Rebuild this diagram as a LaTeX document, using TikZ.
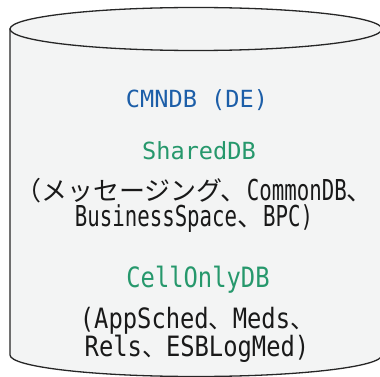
\documentclass[tikz,border=0pt]{standalone}
\usepackage{fontspec}
\newfontfamily\monofont{DejaVu Sans Mono}
\newfontfamily\monotall[FakeStretch=0.85]{DejaVu Sans Mono}
\newfontfamily\mononarrow[FakeStretch=0.72]{DejaVu Sans Mono}
\newfontfamily\jpfont{Noto Sans CJK JP}
\newcommand{\jp}[2][26]{{\jpfont\fontsize{#1}{#1}\selectfont #2}}
\setlength{\lineskiplimit}{-20pt}
\definecolor{cylfill}{RGB}{243,244,244}
\definecolor{dbblue}{RGB}{28,94,168}
\definecolor{dbgreen}{RGB}{38,152,108}

\begin{document}
\begin{tikzpicture}[x=1pt,y=-1pt,
  cyl/.style={fill=cylfill, draw=black!85, line width=1.3pt},
  title/.style={anchor=base, inner sep=0pt, font=\monofont\fontsize{23.6}{28}\selectfont},
  listtop/.style={anchor=base, inner sep=0pt, align=center, text=black!90,
    font=\mononarrow\fontsize{28.8}{26.2}\selectfont},
  listbot/.style={anchor=base, inner sep=0pt, align=center, text=black!90,
    font=\monotall\fontsize{28}{28.4}\selectfont}]
\useasboundingbox (0,0) rectangle (380,377);
% cylinder body and lid
\filldraw[cyl] (10,29) -- (10,355)
  arc[start angle=180, end angle=0, x radius=186, y radius=21.5] -- (382,29) -- cycle;
\filldraw[cyl] (196,29) ellipse [x radius=186, y radius=21.5];
% texts (base = last line)
\node[title, text=dbblue] (cmndb) at (197,108) {CMNDB (DE)};
\node[title, text=dbgreen] (shared) at (199,160) {SharedDB};
\node[listtop] (sharedlist) at (194,226.5)
  {\jp{（メッセージング、}CommonDB\jp{、}\\BusinessSpace\jp{、}BPC)};
\node[listbot, text=dbgreen] (cellonly) at (198,287.3) {CellOnlyDB};
\node[listbot] (celllist) at (197,356.7)
  {(AppSched\jp[24]{、}Meds\jp[24]{、}\\Rels\jp[24]{、}ESBLogMed)};
\end{tikzpicture}
\end{document}
